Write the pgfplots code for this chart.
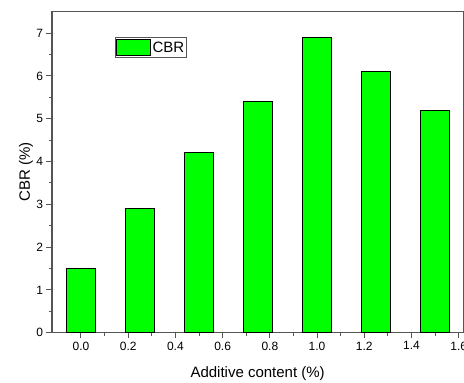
\documentclass[border=0pt]{standalone}
\usepackage{fontspec}
\setmainfont{Liberation Sans}
\usepackage{pgfplots}
\pgfplotsset{compat=1.18}
\definecolor{barg}{RGB}{0,255,0}
\definecolor{framec}{RGB}{85,85,85}
\begin{document}
\begin{tikzpicture}
\begin{axis}[
  at={(0,0)}, anchor=south west,
  scale only axis, width=411.3pt, height=321pt,
  xmin=-0.1228, xmax=1.6195, ymin=0, ymax=7.5,
  xtick={0,0.2,0.4,0.6,0.8,1.0,1.2,1.4,1.6},
  ytick={0,1,2,3,4,5,6,7},
  minor x tick num=1, minor y tick num=1,
  xtick pos=bottom, ytick pos=left, tick align=outside,
  major tick length=5.5pt, minor tick length=3pt,
  axis line style={framec, line width=1.5pt},
  every tick/.style={framec, line width=1pt},
  /pgf/number format/assume math mode=true,
  xticklabel style={/pgf/number format/.cd, fixed, fixed zerofill, precision=1},
  yticklabel style={/pgf/number format/.cd, fixed, precision=0},
  tick label style={font=\fontsize{12}{14}\selectfont},
  xlabel={Additive content (\%)}, ylabel={CBR (\%)},
  label style={font=\fontsize{15}{18}\selectfont},
  xlabel style={at={(axis description cs:0.5,-0.127)}, anchor=center},
  ylabel style={at={(axis description cs:-0.063,0.5)}, anchor=center},
  legend style={at={(axis cs:0.144,6.9)}, anchor=north west, draw=framec, line width=1pt,
    inner xsep=1pt, inner ysep=1pt, font=\fontsize{15}{18}\selectfont,
    nodes={inner sep=1.5pt}},
  legend cell align=left,
  legend image code/.code={\draw[#1] (0pt,-8.3pt) rectangle (33.7pt,8.3pt);},
]
\addplot[ybar, bar width=29.3pt, fill=barg, draw=black, line width=0.9pt]
  coordinates {(0,1.5) (0.25,2.9) (0.5,4.2) (0.75,5.4) (1.0,6.9) (1.25,6.1) (1.5,5.2)};
\addlegendentry{CBR}
\end{axis}
\pgfresetboundingbox
\path (-52pt,-50.3pt) rectangle (412pt,332.7pt);
\end{tikzpicture}
\end{document}
